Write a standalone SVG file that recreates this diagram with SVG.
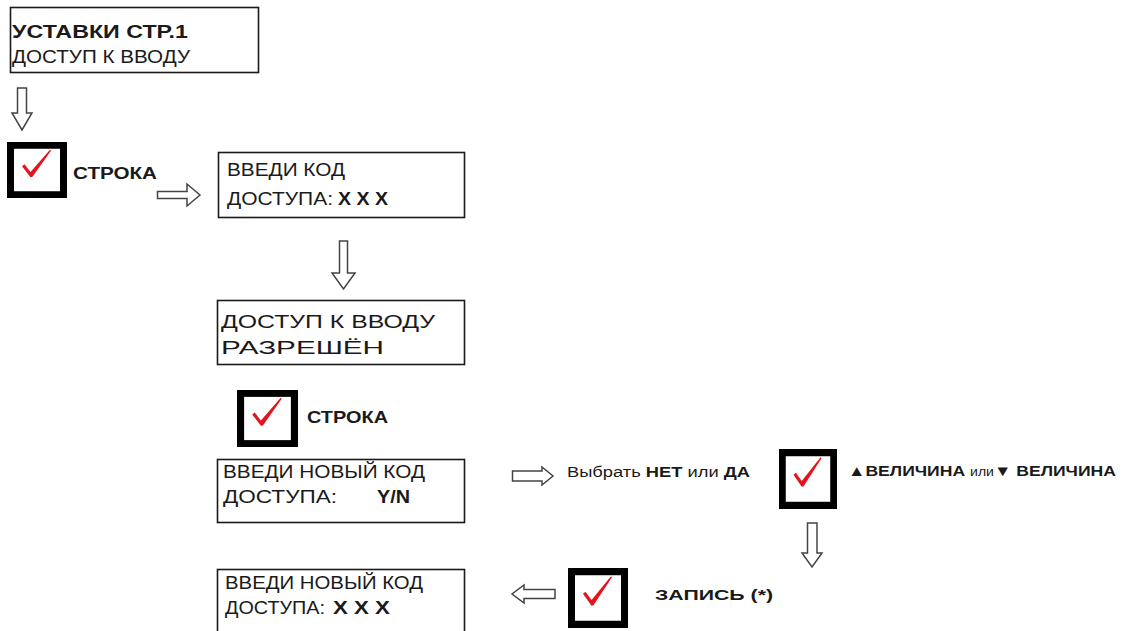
<svg xmlns="http://www.w3.org/2000/svg" xmlns:xlink="http://www.w3.org/1999/xlink" width="1128" height="631" viewBox="0 0 1128 631">
<style>
  text { font-family: "Liberation Sans", Arial, sans-serif; fill: #1a1a1a; }
  .box { fill: #ffffff; stroke: #1a1a1a; stroke-width: 1.6; }
  .bt { font-size: 18px; }
  .big { font-size: 19px; }
  .b { font-weight: bold; }
  .lbl { font-size: 17px; font-weight: bold; }
  .sm { font-size: 14px; }
  .arrow { fill: #ffffff; stroke: #444444; stroke-width: 1.5; stroke-linejoin: miter; }
  .cbframe { fill: #ffffff; stroke: #000000; stroke-width: 7; }
  .tick { fill: #e3141f; }
</style>
<defs>
  <symbol id="checkbox" viewBox="0 0 60 58" preserveAspectRatio="none">
    <rect class="cbframe" x="3.5" y="3.5" width="53" height="51"/>
    <path class="tick" d="M15,25 L17.5,23 L23.5,31 L43,8 L44,9 L25.5,36 L23.5,36.5 Z"/>
  </symbol>
</defs>
<rect width="1128" height="631" fill="#ffffff"/>

<g id="n1">
  <rect class="box" x="10.5" y="7.5" width="248" height="65"/>
  <text class="bt b" x="12" y="38" textLength="176" lengthAdjust="spacingAndGlyphs">УСТАВКИ СТР.1</text>
  <text class="bt" x="12" y="63" textLength="178" lengthAdjust="spacingAndGlyphs">ДОСТУП К ВВОДУ</text>
</g>

<g id="cb1">
  <use xlink:href="#checkbox" href="#checkbox" x="7" y="142" width="60" height="56"/>
  <text class="lbl" x="73" y="179" textLength="84" lengthAdjust="spacingAndGlyphs">СТРОКА</text>
</g>

<g id="n2">
  <rect class="box" x="218.5" y="152.5" width="246" height="65"/>
  <text class="bt" x="227" y="176" textLength="118" lengthAdjust="spacingAndGlyphs">ВВЕДИ КОД</text>
  <text class="bt" x="227" y="205" textLength="106" lengthAdjust="spacingAndGlyphs">ДОСТУПА:</text>
  <text class="bt b" x="338" y="205" textLength="50" lengthAdjust="spacingAndGlyphs">X X X</text>
</g>

<g id="n3">
  <rect class="box" x="217.5" y="300.5" width="247" height="64"/>
  <text class="big" x="221" y="328" textLength="214" lengthAdjust="spacingAndGlyphs">ДОСТУП К ВВОДУ</text>
  <text class="big" x="221" y="354" textLength="163" lengthAdjust="spacingAndGlyphs">РАЗРЕШЁН</text>
</g>

<g id="cb2">
  <use xlink:href="#checkbox" href="#checkbox" x="237" y="390" width="61" height="57"/>
  <text class="lbl" x="307" y="423" textLength="81" lengthAdjust="spacingAndGlyphs">СТРОКА</text>
</g>

<g id="n4">
  <rect class="box" x="217.5" y="459.5" width="247" height="63"/>
  <text class="bt" x="223" y="478" textLength="202" lengthAdjust="spacingAndGlyphs">ВВЕДИ НОВЫЙ КОД</text>
  <text class="bt" x="223" y="503" textLength="114" lengthAdjust="spacingAndGlyphs">ДОСТУПА:</text>
  <text class="bt b" x="377" y="503" textLength="33" lengthAdjust="spacingAndGlyphs">Y/N</text>
</g>

<g id="choose">
  <text class="sm" x="567" y="477" textLength="183" lengthAdjust="spacingAndGlyphs">Выбрать <tspan class="b">НЕТ</tspan> или <tspan class="b">ДА</tspan></text>
</g>

<g id="cb3">
  <use xlink:href="#checkbox" href="#checkbox" x="779" y="449" width="58" height="60"/>
  <text class="b" font-size="15" x="848" y="476" textLength="268" lengthAdjust="spacingAndGlyphs">▲ВЕЛИЧИНА <tspan font-weight="normal" font-size="12">или</tspan>▼ ВЕЛИЧИНА</text>
</g>

<g id="cb4">
  <use xlink:href="#checkbox" href="#checkbox" x="568" y="568" width="60" height="60"/>
  <text class="b" font-size="15" x="655" y="600" textLength="118" lengthAdjust="spacingAndGlyphs">ЗАПИСЬ (*)</text>
</g>

<g id="n5">
  <rect class="box" x="217.5" y="569.5" width="247" height="70"/>
  <text class="bt" x="225" y="589" textLength="198" lengthAdjust="spacingAndGlyphs">ВВЕДИ НОВЫЙ КОД</text>
  <text class="bt" x="225" y="614" textLength="100" lengthAdjust="spacingAndGlyphs">ДОСТУПА:</text>
  <text class="bt b" x="333" y="614" textLength="57" lengthAdjust="spacingAndGlyphs">X X X</text>
</g>

<g id="connectors">
  <path class="arrow" d="M17.5,88 H26.5 V113 H32 L22,130 L12,113 H17.5 Z"/>
  <path class="arrow" d="M157.5,191.5 H187 V184 L200,195 L187,206 V198.5 H157.5 Z"/>
  <path class="arrow" d="M339.5,241 H347.5 V273 H355 L343.5,289 L332,273 H339.5 Z"/>
  <path class="arrow" d="M512.5,471 H542 V467 L553,476 L542,485 V481 H512.5 Z"/>
  <path class="arrow" d="M807.5,523 H817 V553 H822 L812,567 L802,553 H807.5 Z"/>
  <path class="arrow" d="M555,589.5 H524 V585 L512,594 L524,603 V598.5 H555 Z"/>
</g>
</svg>
